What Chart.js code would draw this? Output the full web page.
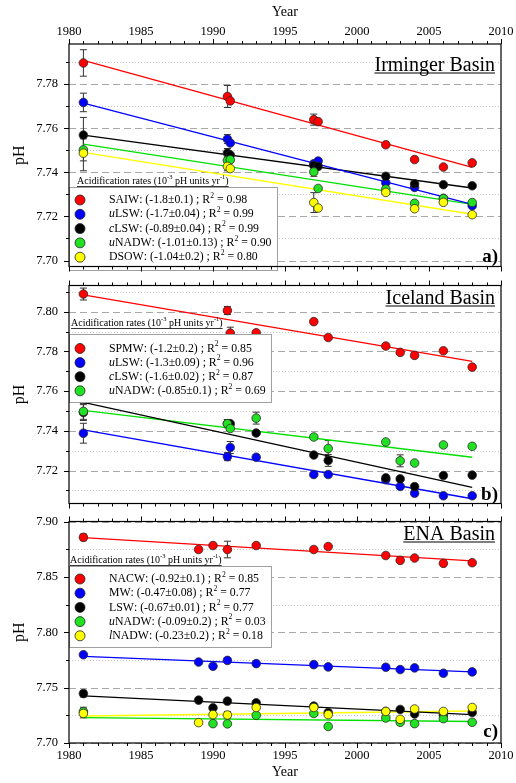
<!DOCTYPE html>
<html>
<head>
<meta charset="utf-8">
<script src="https://cdn.jsdelivr.net/npm/chart.js@4.4.1/dist/chart.umd.min.js"></script>
<style>
  html, body { margin: 0; padding: 0; background: #fff; }
  #wrap { position: relative; width: 516px; height: 783px; overflow: hidden; }
  canvas { position: absolute; left: 0; }
</style>
</head>
<body>
<div id="wrap">
  <canvas id="panelA" width="516" height="280" style="top:0px"></canvas>
  <canvas id="panelB" width="516" height="245" style="top:272px"></canvas>
  <canvas id="panelC" width="516" height="275" style="top:508px"></canvas>
</div>
<script>
// ----- DATA -----
const xTicks = [1980, 1985, 1990, 1995, 2000, 2005, 2010];
const trendYears = [1981, 2008];

// a) Irminger Basin
const yearsA = [1981, 1991, 1991.2, 1997, 1997.3, 2002, 2004, 2006, 2008];
const yTicksA = [7.70, 7.72, 7.74, 7.76, 7.78];
const yMinorA = [7.71, 7.73, 7.75, 7.77, 7.79];
const namesA = ['SAIW', 'uLSW', 'cLSW', 'uNADW', 'DSOW'];
const ratesA = ['-1.8±0.1', '-1.7±0.04', '-0.89±0.04', '-1.01±0.13', '-1.04±0.2'];
const r2A = ['0.98', '0.99', '0.99', '0.90', '0.80'];
const saiwA  = [7.7896, 7.7744, 7.7724, 7.7639, 7.7630, 7.7525, 7.7458, 7.7424, 7.7443];
const ulswA  = [7.7717, 7.7551, 7.7533, 7.7439, 7.7451, 7.7353, 7.7332, 7.7282, 7.7249];
const clswA  = [7.7569, 7.7488, 7.7479, 7.7431, 7.7427, 7.7382, 7.7348, 7.7344, 7.7339];
const unadwA = [7.7502, 7.7454, 7.7457, 7.7402, 7.7327, 7.7324, 7.7260, 7.7281, 7.7263];
const dsowA  = [7.7487, 7.7427, 7.7417, 7.7263, 7.7238, 7.7309, 7.7235, 7.7264, 7.7208];
const errSaiwA  = [0.006, 0.005, 0, 0.0025, 0, 0, 0, 0, 0];
const errUlswA  = [0.0042, 0.002, 0, 0, 0, 0, 0, 0, 0];
const errClswA  = [0.008, 0.002, 0, 0.002, 0, 0, 0, 0, 0];
const errUnadwA = [0.005, 0.002, 0, 0.002, 0, 0, 0, 0, 0];
const errDsowA  = [0.008, 0.002, 0, 0.0045, 0, 0, 0, 0, 0];
const trendSaiwA  = [7.7908, 7.7422];
const trendUlswA  = [7.7714, 7.7255];
const trendClswA  = [7.7569, 7.7329];
const trendUnadwA = [7.7528, 7.7255];
const trendDsowA  = [7.7491, 7.7210];

// b) Iceland Basin
const yearsB = [1981, 1991, 1991.2, 1993, 1997, 1998, 2002, 2003, 2004, 2006, 2008];
const yTicksB = [7.72, 7.74, 7.76, 7.78, 7.80];
const yMinorB = [7.71, 7.73, 7.75, 7.77, 7.79, 7.81];
const namesB = ['SPMW', 'uLSW', 'cLSW', 'uNADW'];
const ratesB = ['-1.2±0.2', '-1.3±0.09', '-1.6±0.02', '-0.85±0.1'];
const r2B = ['0.85', '0.96', '0.87', '0.69'];
const spmwB  = [7.8089, 7.8006, 7.7892, 7.7894, 7.7950, 7.7870, 7.7827, 7.7795, 7.7780, 7.7803, 7.7721];
const ulswB  = [7.7388, 7.7270, 7.7316, 7.7267, 7.7180, 7.7180, 7.7154, 7.7120, 7.7086, 7.7073, 7.7073];
const clswB  = [7.7492, 7.7436, 7.7436, 7.7389, 7.7278, 7.7251, 7.7163, 7.7158, 7.7119, 7.7175, 7.7177];
const unadwB = [7.7498, 7.7436, 7.7412, 7.7464, 7.7369, 7.7311, 7.7344, 7.7249, 7.7238, 7.7329, 7.7322];
const errSpmwB  = [0.003, 0.002, 0.003, 0, 0, 0, 0, 0, 0, 0, 0];
const errUlswB  = [0.005, 0.002, 0.003, 0, 0, 0, 0, 0, 0, 0, 0];
const errClswB  = [0.004, 0.002, 0, 0, 0, 0.003, 0, 0, 0, 0, 0];
const errUnadwB = [0.004, 0.002, 0, 0.003, 0, 0.004, 0, 0.003, 0, 0, 0];
const trendSpmwB  = [7.8085, 7.7750];
const trendUlswB  = [7.7405, 7.7058];
const trendClswB  = [7.7543, 7.7115];
const trendUnadwB = [7.7503, 7.7267];

// c) ENA Basin
const yearsC = [1981, 1989, 1990, 1991, 1993, 1997, 1998, 2002, 2003, 2004, 2006, 2008];
const yTicksC = [7.70, 7.75, 7.80, 7.85, 7.90];
const yMinorC = [7.725, 7.775, 7.825, 7.875];
const namesC = ['NACW', 'MW', 'LSW', 'uNADW', 'lNADW'];
const ratesC = ['-0.92±0.1', '-0.47±0.08', '-0.67±0.01', '-0.09±0.2', '-0.23±0.2'];
const r2C = ['0.85', '0.77', '0.77', '0.03', '0.18'];
const nacwC  = [7.8857, 7.8747, 7.8783, 7.8747, 7.8783, 7.8747, 7.8774, 7.8693, 7.8649, 7.8670, 7.8622, 7.8628];
const mwC    = [7.7797, 7.7731, 7.7693, 7.7746, 7.7717, 7.7708, 7.7687, 7.7684, 7.7663, 7.7678, 7.7630, 7.7642];
const lswC   = [7.7446, 7.7387, 7.7318, 7.7378, 7.7363, 7.7333, 7.7276, 7.7285, 7.7303, 7.7262, 7.7253, 7.7276];
const unadwC = [7.7283, null, 7.7175, 7.7173, 7.7250, 7.7267, 7.7149, 7.7226, 7.7187, 7.7175, 7.7220, 7.7187];
const lnadwC = [7.7267, 7.7184, 7.7256, 7.7253, 7.7321, 7.7321, 7.7256, 7.7285, 7.7214, 7.7307, 7.7285, 7.7321];
const errNacwC  = [0.003, 0, 0, 0.0075, 0, 0, 0, 0, 0, 0, 0, 0];
const errMwC    = [0, 0, 0, 0, 0, 0, 0, 0, 0, 0, 0, 0];
const errLswC   = [0.003, 0, 0, 0, 0, 0, 0, 0, 0, 0, 0, 0];
const errUnadwC = [0.004, 0, 0, 0, 0, 0, 0, 0, 0, 0, 0, 0];
const errLnadwC = [0.004, 0, 0, 0.003, 0, 0, 0, 0, 0, 0, 0, 0];
const trendNacwC  = [7.8854, 7.8644];
const trendMwC    = [7.7782, 7.7642];
const trendLswC   = [7.7425, 7.7256];
const trendUnadwC = [7.7230, 7.7194];
const trendLnadwC = [7.7244, 7.7289];


// ----- STYLE -----
const SERIF = "'Liberation Serif', 'Times New Roman', serif";
const pointColors = ['#ff0000', '#0000ff', '#000000', '#22e022', '#ffff00'];
const lineColors  = ['#ff0000', '#0000ff', '#000000', '#00e000', '#ffff00'];

Chart.defaults.font.family = SERIF;
Chart.defaults.color = '#000';


// ----- DRAW HELPERS -----
function strokeLine(ctx, x1, y1, x2, y2) {
    ctx.beginPath();
    ctx.moveTo(x1, y1);
    ctx.lineTo(x2, y2);
    ctx.stroke();
}

// text made of pieces, some italic or superscript; returns end x
function drawRich(ctx, parts, x, y, size) {
    parts.forEach(pt => {
        const s = pt.sup ? size * 0.65 : size;
        ctx.font = (pt.italic ? 'italic ' : '') + s + 'px ' + SERIF;
        ctx.fillText(pt.t, x, pt.sup ? y - size * 0.35 : y);
        x += ctx.measureText(pt.t).width;
    });
    return x;
}

function nameParts(name) {
    if (name[0] === name[0].toLowerCase()) {
        return [{ t: name[0], italic: true }, { t: name.slice(1) }];
    }
    return [{ t: name }];
}


// ----- PANEL DECORATION PLUGIN -----
function makeDecor(p) {
    return {
        id: 'decor' + p.id,
        beforeDatasetsDraw(chart) {
            const { ctx, chartArea: a, scales: { x, y } } = chart;
            ctx.save();
            ctx.lineWidth = 1;

            // grid: dotted minor, dashed major
            ctx.strokeStyle = '#c8c8c8';
            ctx.setLineDash([1, 2]);
            p.yMinor.forEach(v => {
                const py = Math.round(y.getPixelForValue(v)) + 0.5;
                strokeLine(ctx, a.left, py, a.right, py);
            });
            ctx.strokeStyle = '#a8a8a8';
            ctx.setLineDash([7, 4]);
            p.yTicks.forEach(v => {
                const py = Math.round(y.getPixelForValue(v)) + 0.5;
                strokeLine(ctx, a.left, py, a.right, py);
            });
            ctx.setLineDash([]);

            // error bars
            ctx.strokeStyle = '#333';
            chart.data.datasets.forEach(ds => {
                if (!ds.errors) return;
                ds.data.forEach((pt, i) => {
                    const e = ds.errors[i];
                    if (!e || pt.y == null) return;
                    const px = x.getPixelForValue(pt.x);
                    const y1 = y.getPixelForValue(pt.y + e);
                    const y2 = y.getPixelForValue(pt.y - e);
                    strokeLine(ctx, px, y1, px, y2);
                    strokeLine(ctx, px - 3.5, y1, px + 3.5, y1);
                    strokeLine(ctx, px - 3.5, y2, px + 3.5, y2);
                });
            });
            ctx.restore();
        },
        afterDraw(chart) {
            const { ctx, chartArea: a, scales: { x, y } } = chart;
            const off = p.top;
            ctx.save();

            // legend box
            const L = p.legend;
            ctx.fillStyle = '#fff';
            ctx.fillRect(L.x, L.y - off, L.w, L.h);
            ctx.strokeStyle = '#a0a0a0';
            ctx.lineWidth = 1;
            ctx.strokeRect(L.x + 0.5, L.y - off + 0.5, L.w, L.h);

            ctx.textBaseline = 'middle';
            ctx.textAlign = 'left';
            p.names.forEach((name, i) => {
                const ry = L.row0 + i * L.step - off;
                ctx.beginPath();
                ctx.arc(80, ry, 5, 0, Math.PI * 2);
                ctx.fillStyle = pointColors[i];
                ctx.fill();
                ctx.strokeStyle = '#222';
                ctx.lineWidth = 0.8;
                ctx.stroke();
                ctx.fillStyle = '#000';
                drawRich(ctx, nameParts(name).concat([
                    { t: ': (' + p.rates[i] + ') ; R' },
                    { t: '2', sup: true },
                    { t: ' = ' + p.r2[i] }
                ]), 109, ry, 11.8);
            });

            // heading above the legend
            ctx.fillStyle = '#000';
            const hx = L.hx, hy = L.hy - off;
            const hEnd = drawRich(ctx, [
                { t: 'Acidification rates (10' },
                { t: '-3', sup: true },
                { t: ' pH units yr' },
                { t: '-1', sup: true },
                { t: ')' }
            ], hx, hy, 10);
            ctx.strokeStyle = '#000';
            ctx.lineWidth = 0.8;
            strokeLine(ctx, hx, hy + 5.5, hEnd, hy + 5.5);

            // basin title
            ctx.font = '20px ' + SERIF;
            ctx.textAlign = 'right';
            ctx.textBaseline = 'alphabetic';
            const tb = p.titleY - off + 5.5;
            ctx.fillText(p.title, 495, tb);
            const tw = ctx.measureText(p.title).width;
            ctx.lineWidth = 1;
            strokeLine(ctx, 495 - tw, tb + 2.5, 495, tb + 2.5);

            // panel letter
            ctx.font = 'bold 19px ' + SERIF;
            ctx.textBaseline = 'middle';
            ctx.fillText(p.letter, 498, p.letterY - off);

            // frame
            ctx.strokeStyle = '#000';
            ctx.lineWidth = 1.2;
            ctx.strokeRect(a.left, a.top, a.right - a.left, a.bottom - a.top);

            // x ticks, outward on top and bottom
            ctx.lineWidth = 1;
            for (let yr = 1980; yr <= 2010; yr++) {
                const px = Math.round(x.getPixelForValue(yr)) + 0.5;
                const len = yr % 5 === 0 ? 5 : 3;
                strokeLine(ctx, px, a.top, px, a.top - len);
                strokeLine(ctx, px, a.bottom, px, a.bottom + len);
            }
            // y ticks on the left
            p.yTicks.forEach(v => {
                const py = Math.round(y.getPixelForValue(v)) + 0.5;
                strokeLine(ctx, a.left, py, a.left - 5, py);
            });
            p.yMinor.forEach(v => {
                const py = Math.round(y.getPixelForValue(v)) + 0.5;
                strokeLine(ctx, a.left, py, a.left - 3, py);
            });
            ctx.restore();
        }
    };
}


// ----- BUILD ONE PANEL -----
function makePanel(canvasId, p) {
    const datasets = [];
    p.series.forEach((s, i) => {
        datasets.push({
            label: p.names[i] + ' fit',
            data: trendYears.map((yr, k) => ({ x: yr, y: s.trend[k] })),
            showLine: true,
            pointRadius: 0,
            borderColor: lineColors[i],
            borderWidth: 1.3,
            order: 20
        });
        datasets.push({
            label: p.names[i],
            data: p.years.map((yr, k) => ({ x: yr, y: s.values[k] })),
            errors: s.errors,
            pointRadius: 4.3,
            backgroundColor: pointColors[i],
            borderColor: '#2a2a2a',
            borderWidth: 0.8,
            order: 10 - i
        });
    });

    return new Chart(document.getElementById(canvasId), {
        type: 'scatter',
        data: { datasets },
        options: {
            responsive: false,
            animation: false,
            events: [],
            layout: { padding: p.padding },
            plugins: { legend: { display: false }, tooltip: { enabled: false } },
            scales: {
                x: {
                    type: 'linear',
                    min: 1980,
                    max: 2010,
                    display: p.xPos !== null,
                    position: p.xPos || 'bottom',
                    afterBuildTicks: sc => { sc.ticks = xTicks.map(v => ({ value: v })); },
                    afterFit: sc => { sc.height = p.xHeight; },
                    grid: { display: false, drawTicks: true, tickLength: 5 },
                    border: { display: false },
                    ticks: { font: { size: 12.5 }, color: '#000', padding: 0, maxRotation: 0, autoSkip: false,
                             callback: v => String(v) },
                    title: { display: true, text: 'Year', font: { size: 14 }, color: '#000',
                             padding: p.xTitlePad }
                },
                y: {
                    type: 'linear',
                    min: p.yMin,
                    max: p.yMax,
                    afterBuildTicks: sc => { sc.ticks = p.yTicks.map(v => ({ value: v })); },
                    afterFit: sc => { sc.width = 69; },
                    grid: { display: false, drawTicks: true, tickLength: 5 },
                    border: { display: false },
                    ticks: { font: { size: 12.5 }, color: '#000', padding: 6, callback: v => v.toFixed(2) },
                    title: { display: true, text: 'pH', font: { size: 16 }, color: '#000', padding: { top: 10 } }
                }
            }
        },
        plugins: [makeDecor(p)]
    });
}


// ----- PANELS -----
makePanel('panelA', {
    id: 'A', top: 0,
    padding: { top: 0, bottom: 10, left: 0, right: 15 },
    xPos: 'top', xHeight: 44, xTitlePad: { top: 4, bottom: 0 },
    yMin: 7.6973, yMax: 7.7982,
    years: yearsA, yTicks: yTicksA, yMinor: yMinorA,
    names: namesA, rates: ratesA, r2: r2A,
    series: [
        { values: saiwA, errors: errSaiwA, trend: trendSaiwA },
        { values: ulswA, errors: errUlswA, trend: trendUlswA },
        { values: clswA, errors: errClswA, trend: trendClswA },
        { values: unadwA, errors: errUnadwA, trend: trendUnadwA },
        { values: dsowA, errors: errDsowA, trend: trendDsowA }
    ],
    legend: { x: 69, y: 187, w: 208, h: 83, row0: 200, step: 14.3, hx: 77, hy: 181 },
    title: 'Irminger Basin', titleY: 65,
    letter: 'a)', letterY: 257
});

makePanel('panelB', {
    id: 'B', top: 272,
    padding: { top: 10, bottom: 10.3, left: 0, right: 15 },
    xPos: null, xHeight: 0, xTitlePad: 0,
    yMin: 7.7034, yMax: 7.8132,
    years: yearsB, yTicks: yTicksB, yMinor: yMinorB,
    names: namesB, rates: ratesB, r2: r2B,
    series: [
        { values: spmwB, errors: errSpmwB, trend: trendSpmwB },
        { values: ulswB, errors: errUlswB, trend: trendUlswB },
        { values: clswB, errors: errClswB, trend: trendClswB },
        { values: unadwB, errors: errUnadwB, trend: trendUnadwB }
    ],
    legend: { x: 69, y: 334, w: 202, h: 68, row0: 348.5, step: 14.1, hx: 71, hy: 323 },
    title: 'Iceland Basin', titleY: 298,
    letter: 'b)', letterY: 495
});

makePanel('panelC', {
    id: 'C', top: 508,
    padding: { top: 10, bottom: 0, left: 0, right: 15 },
    xPos: 'bottom', xHeight: 40, xTitlePad: { top: 0, bottom: 2 },
    yMin: 7.70, yMax: 7.90,
    years: yearsC, yTicks: yTicksC, yMinor: yMinorC,
    names: namesC, rates: ratesC, r2: r2C,
    series: [
        { values: nacwC, errors: errNacwC, trend: trendNacwC },
        { values: mwC, errors: errMwC, trend: trendMwC },
        { values: lswC, errors: errLswC, trend: trendLswC },
        { values: unadwC, errors: errUnadwC, trend: trendUnadwC },
        { values: lnadwC, errors: errLnadwC, trend: trendLnadwC }
    ],
    legend: { x: 69, y: 566, w: 202, h: 81, row0: 579, step: 14.2, hx: 70, hy: 560 },
    title: 'ENA Basin', titleY: 534,
    letter: 'c)', letterY: 732
});
</script>
</body>
</html>
